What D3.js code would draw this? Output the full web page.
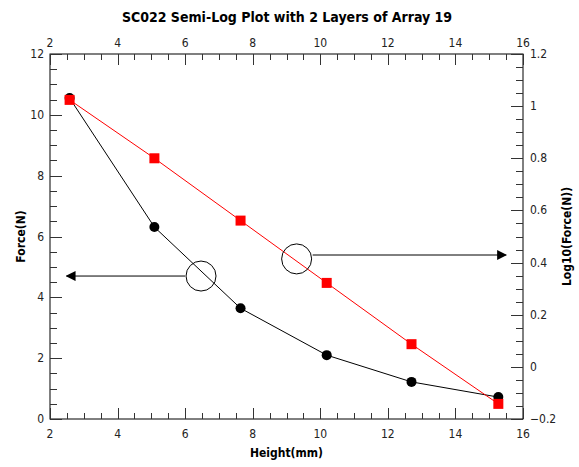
<!DOCTYPE html>
<html>
<head>
<meta charset="utf-8">
<script src="https://cdn.jsdelivr.net/npm/d3@7"></script>
<style>
  body { margin: 0; background: #fff; }
  svg { font-family: "DejaVu Sans Condensed", "DejaVu Sans", sans-serif; }
</style>
</head>
<body>
<svg width="579" height="467"></svg>
<script>
// data
const height_mm = [2.58, 5.09, 7.64, 10.19, 12.70, 15.27];
const force = [10.55, 6.31, 3.64, 2.10, 1.22, 0.72];
const logForce = [1.024, 0.800, 0.561, 0.322, 0.087, -0.142];

const xTicks = [2, 4, 6, 8, 10, 12, 14, 16];
const yLeftTicks = [0, 2, 4, 6, 8, 10, 12];
const yRightTicks = [-0.2, 0, 0.2, 0.4, 0.6, 0.8, 1, 1.2];

// annotation circles/arrows, in data units
const noteLeft = {x: 6.47, y: 4.70, toX: 2.49};
const noteRight = {x: 9.30, y: 0.414, arrowY: 0.429, toX: 15.5};

const svg = d3.select("svg");
const m = {left: 50, right: 523, top: 54, bottom: 419};

const x = d3.scaleLinear().domain([2, 16]).range([m.left, m.right]);
const yL = d3.scaleLinear().domain([0, 12]).range([m.bottom, m.top]);
const yR = d3.scaleLinear().domain([-0.2, 1.2]).range([m.bottom, m.top]);

const fmt = d => d3.format("")(+d.toFixed(2)).replace("-", "\u2212");

svg.append("defs").append("marker")
    .attr("id", "arr")
    .attr("viewBox", "0 0 10 10")
    .attr("refX", 9).attr("refY", 5)
    .attr("markerWidth", 10).attr("markerHeight", 10)
    .attr("markerUnits", "userSpaceOnUse")
    .attr("orient", "auto")
  .append("path")
    .attr("d", "M0,0L10,5L0,10Z")
    .attr("fill", "#000");

// frame
svg.append("rect")
    .attr("x", m.left).attr("y", m.top)
    .attr("width", m.right - m.left).attr("height", m.bottom - m.top)
    .attr("fill", "none").attr("stroke", "#000");

const tickG = svg.append("g").attr("stroke", "#333").attr("stroke-width", 1);

// x ticks (bottom + top), minor every 0.5
d3.range(2, 16.01, 0.5).forEach(v => {
  const major = Math.abs(v % 2) < 1e-6;
  const len = major ? 11 : 6;
  const px = Math.round(x(v)) + 0.5;
  tickG.append("line").attr("x1", px).attr("x2", px).attr("y1", m.bottom).attr("y2", m.bottom - len);
  tickG.append("line").attr("x1", px).attr("x2", px).attr("y1", m.top).attr("y2", m.top + len);
});

// left y ticks, minor every 0.5
d3.range(0, 12.01, 0.5).forEach(v => {
  const major = Math.abs(v % 2) < 1e-6;
  const py = Math.round(yL(v)) + 0.5;
  tickG.append("line").attr("x1", m.left).attr("x2", m.left + (major ? 12 : 7)).attr("y1", py).attr("y2", py);
});

// right y ticks, minor every 0.05
d3.range(0, 28.01, 1).forEach(i => {
  const v = -0.2 + i * 0.05;
  const major = i % 4 === 0;
  const py = Math.round(yR(v)) + 0.5;
  tickG.append("line").attr("x1", m.right).attr("x2", m.right - (major ? 12 : 7)).attr("y1", py).attr("y2", py);
});

const lab = svg.append("g").attr("font-size", 12).attr("fill", "#222");

lab.selectAll(".xb").data(xTicks).join("text")
    .attr("x", d => x(d)).attr("y", m.bottom + 19)
    .attr("text-anchor", "middle").text(d => d);
lab.selectAll(".xt").data(xTicks).join("text")
    .attr("x", d => x(d)).attr("y", m.top - 7)
    .attr("text-anchor", "middle").text(d => d);
lab.selectAll(".yl").data(yLeftTicks).join("text")
    .attr("x", m.left - 6).attr("y", d => yL(d) + 4)
    .attr("text-anchor", "end").text(d => d);
lab.selectAll(".yr").data(yRightTicks).join("text")
    .attr("x", m.right + 7).attr("y", d => yR(d) + 4)
    .attr("text-anchor", "start").text(fmt);

// titles
svg.append("text")
    .attr("x", 287).attr("y", 22)
    .attr("text-anchor", "middle").attr("font-size", 14).attr("font-weight", "bold")
    .text("SC022 Semi-Log Plot with 2 Layers of Array 19");
svg.append("text")
    .attr("x", (m.left + m.right) / 2).attr("y", 457)
    .attr("text-anchor", "middle").attr("font-size", 12).attr("font-weight", "bold")
    .text("Height(mm)");
svg.append("text")
    .attr("transform", `translate(25,${(m.top + m.bottom) / 2}) rotate(-90)`)
    .attr("text-anchor", "middle").attr("font-size", 12).attr("font-weight", "bold")
    .text("Force(N)");
svg.append("text")
    .attr("transform", `translate(571,${(m.top + m.bottom) / 2}) rotate(-90)`)
    .attr("text-anchor", "middle").attr("font-size", 12).attr("font-weight", "bold")
    .text("Log10(Force(N))");

// black series: force (left axis)
const blk = height_mm.map((h, i) => ({h: h, v: force[i]}));
svg.append("path").datum(blk)
    .attr("fill", "none").attr("stroke", "#000").attr("stroke-width", 1)
    .attr("d", d3.line().x(d => x(d.h)).y(d => yL(d.v)));
svg.selectAll(".dot").data(blk).join("circle")
    .attr("cx", d => x(d.h)).attr("cy", d => yL(d.v)).attr("r", 5).attr("fill", "#000");

// red series: log10 force (right axis)
const red = height_mm.map((h, i) => ({h: h, v: logForce[i]}));
svg.append("path").datum(red)
    .attr("fill", "none").attr("stroke", "#f00").attr("stroke-width", 1)
    .attr("d", d3.line().x(d => x(d.h)).y(d => yR(d.v)));
svg.selectAll(".sq").data(red).join("rect")
    .attr("x", d => x(d.h) - 5).attr("y", d => yR(d.v) - 5)
    .attr("width", 10).attr("height", 10).attr("fill", "#f00");

// annotations
const r = 15;
svg.append("circle").attr("cx", x(noteLeft.x)).attr("cy", yL(noteLeft.y)).attr("r", r)
    .attr("fill", "none").attr("stroke", "#000");
svg.append("line")
    .attr("x1", x(noteLeft.x) - r - 1).attr("y1", yL(noteLeft.y))
    .attr("x2", x(noteLeft.toX)).attr("y2", yL(noteLeft.y))
    .attr("stroke", "#000").attr("marker-end", "url(#arr)");
svg.append("circle").attr("cx", x(noteRight.x)).attr("cy", yR(noteRight.y)).attr("r", r)
    .attr("fill", "none").attr("stroke", "#000");
svg.append("line")
    .attr("x1", x(noteRight.x) + r + 1).attr("y1", yR(noteRight.arrowY))
    .attr("x2", x(noteRight.toX)).attr("y2", yR(noteRight.arrowY))
    .attr("stroke", "#000").attr("marker-end", "url(#arr)");
</script>
</body>
</html>
